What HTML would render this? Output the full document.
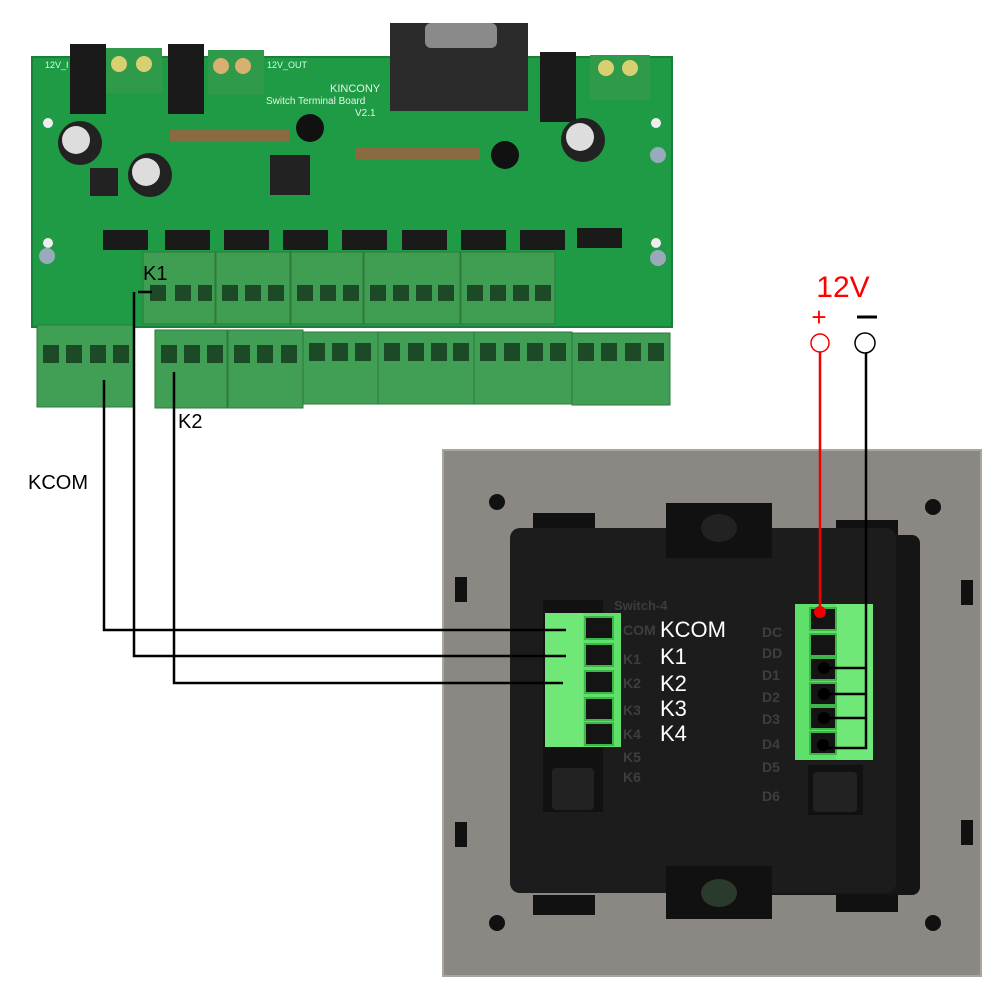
<!DOCTYPE html>
<html><head><meta charset="utf-8"><style>
html,body{margin:0;padding:0;background:#fff;}
svg{display:block}
text{font-family:"Liberation Sans",sans-serif;}
</style></head><body>
<svg width="1000" height="1000" viewBox="0 0 1000 1000" xmlns="http://www.w3.org/2000/svg">
<rect width="1000" height="1000" fill="#fff"/>
<!-- PCB -->
<rect x="32" y="57" width="640" height="270" fill="#1f9b45"/>
<rect x="32" y="57" width="640" height="270" fill="none" stroke="#17803a" stroke-width="2"/>
<!-- top components -->
<rect x="390" y="23" width="138" height="88" fill="#2b2b2b"/>
<rect x="425" y="23" width="72" height="25" rx="6" fill="#8a8a8a"/>
<rect x="70" y="44" width="36" height="70" fill="#1a1a1a"/>
<rect x="168" y="44" width="36" height="70" fill="#1a1a1a"/>
<rect x="540" y="52" width="36" height="70" fill="#1a1a1a"/>
<rect x="106" y="48" width="56" height="45" fill="#2f9a4a"/>
<circle cx="119" cy="64" r="8" fill="#d8d070"/><circle cx="144" cy="64" r="8" fill="#d8d070"/>
<rect x="208" y="50" width="56" height="45" fill="#2f9a4a"/>
<circle cx="221" cy="66" r="8" fill="#d8b070"/><circle cx="243" cy="66" r="8" fill="#d8b070"/>
<rect x="590" y="55" width="60" height="45" fill="#2f9a4a"/>
<circle cx="606" cy="68" r="8" fill="#d8d070"/><circle cx="630" cy="68" r="8" fill="#d8d070"/>
<circle cx="80" cy="143" r="22" fill="#222"/><circle cx="76" cy="140" r="14" fill="#ddd"/>
<circle cx="150" cy="175" r="22" fill="#222"/><circle cx="146" cy="172" r="14" fill="#ddd"/>
<circle cx="583" cy="140" r="22" fill="#222"/><circle cx="580" cy="137" r="14" fill="#ddd"/>
<rect x="90" y="168" width="28" height="28" fill="#222"/>
<rect x="170" y="130" width="120" height="12" fill="#8a6a40"/>
<rect x="355" y="148" width="125" height="12" fill="#8a6a40"/>
<rect x="270" y="155" width="40" height="40" fill="#222"/>
<circle cx="310" cy="128" r="14" fill="#111"/><circle cx="505" cy="155" r="14" fill="#111"/>
<text x="330" y="92" font-size="11" fill="#e8f5e8">KINCONY</text>
<text x="266" y="104" font-size="10" fill="#e8f5e8">Switch Terminal Board</text>
<text x="355" y="116" font-size="10" fill="#e8f5e8">V2.1</text>
<text x="45" y="68" font-size="9" fill="#cfe">12V_I</text>
<text x="267" y="68" font-size="9" fill="#cfe">12V_OUT</text>
<circle cx="48" cy="123" r="5" fill="#eee"/><circle cx="48" cy="243" r="5" fill="#eee"/>
<circle cx="656" cy="123" r="5" fill="#eee"/><circle cx="656" cy="243" r="5" fill="#eee"/>
<circle cx="47" cy="256" r="8" fill="#9ab"/><circle cx="658" cy="155" r="8" fill="#9ab"/><circle cx="658" cy="258" r="8" fill="#9ab"/>
<!-- ICs -->
<g fill="#1a1a1a">
<rect x="103" y="230" width="45" height="20"/><rect x="165" y="230" width="45" height="20"/>
<rect x="224" y="230" width="45" height="20"/><rect x="283" y="230" width="45" height="20"/>
<rect x="342" y="230" width="45" height="20"/><rect x="402" y="230" width="45" height="20"/>
<rect x="461" y="230" width="45" height="20"/><rect x="520" y="230" width="45" height="20"/>
<rect x="577" y="228" width="45" height="20"/>
</g>
<!-- upper terminal row -->
<g fill="#3f9e52" stroke="#2c7a3b" stroke-width="1">
<rect x="143" y="252" width="72" height="72"/><rect x="216" y="252" width="74" height="72"/>
<rect x="291" y="252" width="72" height="72"/><rect x="364" y="252" width="96" height="72"/>
<rect x="461" y="252" width="94" height="72"/>
</g>
<g fill="#1c4a26">
<rect x="150" y="285" width="16" height="16"/><rect x="175" y="285" width="16" height="16"/><rect x="198" y="285" width="14" height="16"/>
<rect x="222" y="285" width="16" height="16"/><rect x="245" y="285" width="16" height="16"/><rect x="268" y="285" width="16" height="16"/>
<rect x="297" y="285" width="16" height="16"/><rect x="320" y="285" width="16" height="16"/><rect x="343" y="285" width="16" height="16"/>
<rect x="370" y="285" width="16" height="16"/><rect x="393" y="285" width="16" height="16"/><rect x="416" y="285" width="16" height="16"/><rect x="438" y="285" width="16" height="16"/>
<rect x="467" y="285" width="16" height="16"/><rect x="490" y="285" width="16" height="16"/><rect x="513" y="285" width="16" height="16"/><rect x="535" y="285" width="16" height="16"/>
</g>
<!-- lower terminal row -->
<g fill="#419f55" stroke="#2c7a3b" stroke-width="1">
<rect x="37" y="325" width="97" height="82"/><rect x="155" y="330" width="72" height="78"/>
<rect x="228" y="330" width="75" height="78"/><rect x="303" y="332" width="75" height="72"/>
<rect x="378" y="332" width="96" height="72"/><rect x="474" y="332" width="98" height="72"/>
<rect x="572" y="333" width="98" height="72"/>
</g>
<g fill="#1c4a26">
<rect x="43" y="345" width="16" height="18"/><rect x="66" y="345" width="16" height="18"/><rect x="90" y="345" width="16" height="18"/><rect x="113" y="345" width="16" height="18"/>
<rect x="161" y="345" width="16" height="18"/><rect x="184" y="345" width="16" height="18"/><rect x="207" y="345" width="16" height="18"/>
<rect x="234" y="345" width="16" height="18"/><rect x="257" y="345" width="16" height="18"/><rect x="281" y="345" width="16" height="18"/>
<rect x="309" y="343" width="16" height="18"/><rect x="332" y="343" width="16" height="18"/><rect x="355" y="343" width="16" height="18"/>
<rect x="384" y="343" width="16" height="18"/><rect x="408" y="343" width="16" height="18"/><rect x="431" y="343" width="16" height="18"/><rect x="453" y="343" width="16" height="18"/>
<rect x="480" y="343" width="16" height="18"/><rect x="504" y="343" width="16" height="18"/><rect x="527" y="343" width="16" height="18"/><rect x="550" y="343" width="16" height="18"/>
<rect x="578" y="343" width="16" height="18"/><rect x="601" y="343" width="16" height="18"/><rect x="625" y="343" width="16" height="18"/><rect x="648" y="343" width="16" height="18"/>
</g>
<text x="143" y="280" font-size="20" fill="#000">K1</text>
<text x="178" y="428" font-size="20" fill="#000">K2</text>
<text x="28" y="489" font-size="20" fill="#000">KCOM</text>

<!-- panel -->
<rect x="443" y="450" width="538" height="526" fill="#8b8884"/>
<rect x="443" y="450" width="538" height="526" fill="none" stroke="#a8a6a3" stroke-width="2"/>
<g fill="#111">
<circle cx="497" cy="502" r="8"/><circle cx="933" cy="507" r="8"/><circle cx="497" cy="923" r="8"/><circle cx="933" cy="923" r="8"/>
<rect x="455" y="577" width="12" height="25"/><rect x="961" y="580" width="12" height="25"/>
<rect x="455" y="822" width="12" height="25"/><rect x="961" y="820" width="12" height="25"/>
<rect x="533" y="513" width="62" height="20"/><rect x="836" y="520" width="62" height="20"/>
<rect x="533" y="895" width="62" height="20"/><rect x="836" y="892" width="62" height="20"/>
</g>
<rect x="700" y="535" width="220" height="360" rx="8" fill="#151515"/>
<rect x="510" y="528" width="386" height="365" rx="10" fill="#1c1c1c"/>
<rect x="666" y="503" width="106" height="55" fill="#111"/>
<rect x="666" y="866" width="106" height="53" fill="#111"/>
<ellipse cx="719" cy="528" rx="18" ry="14" fill="#222"/>
<ellipse cx="719" cy="893" rx="18" ry="14" fill="#2a3a2c"/>
<rect x="543" y="600" width="60" height="212" fill="#111"/>
<rect x="808" y="765" width="55" height="50" fill="#111"/>
<rect x="552" y="768" width="42" height="42" rx="4" fill="#222"/>
<rect x="813" y="772" width="44" height="40" rx="4" fill="#222"/>
<text x="614" y="610" font-size="13" font-weight="bold" fill="#3c3c3c" font-family="Liberation Mono">Switch-4</text>
<g font-size="14" font-weight="bold" fill="#3e3e3e">
<text x="623" y="635">COM</text><text x="623" y="664">K1</text><text x="623" y="688">K2</text>
<text x="623" y="715">K3</text><text x="623" y="739">K4</text><text x="623" y="762">K5</text><text x="623" y="782">K6</text>
<text x="762" y="637">DC</text><text x="762" y="658">DD</text><text x="762" y="680">D1</text><text x="762" y="702">D2</text>
<text x="762" y="724">D3</text><text x="762" y="749">D4</text><text x="762" y="772">D5</text><text x="762" y="801">D6</text>
</g>
<!-- left green terminal -->
<rect x="545" y="613" width="76" height="134" fill="#5fe06a"/>
<rect x="545" y="613" width="38" height="134" fill="#6fe878"/>
<g fill="#141414" stroke="#3db848" stroke-width="2">
<rect x="585" y="617" width="28" height="22"/><rect x="585" y="644" width="28" height="22"/>
<rect x="585" y="671" width="28" height="22"/><rect x="585" y="698" width="28" height="22"/><rect x="585" y="723" width="28" height="22"/>
</g>
<!-- right green terminal -->
<rect x="795" y="604" width="78" height="156" fill="#5fe06a"/>
<rect x="836" y="604" width="37" height="156" fill="#6fe878"/>
<g fill="#141414" stroke="#3db848" stroke-width="2">
<rect x="810" y="608" width="26" height="22"/><rect x="810" y="634" width="26" height="22"/>
<rect x="810" y="658" width="26" height="22"/><rect x="810" y="683" width="26" height="22"/>
<rect x="810" y="707" width="26" height="22"/><rect x="810" y="732" width="26" height="22"/>
</g>
<g font-size="22" fill="#fff">
<text x="660" y="637">KCOM</text><text x="660" y="664">K1</text><text x="660" y="691">K2</text>
<text x="660" y="716">K3</text><text x="660" y="741">K4</text>
</g>

<!-- wires -->
<g stroke="#000" stroke-width="2.5" fill="none">
<polyline points="104,380 104,630 566,630"/>
<polyline points="134,292 134,656 566,656"/>
<polyline points="138,292 152,292" />
<polyline points="174,372 174,683 563,683"/>
<polyline points="866,353 866,748 826,748"/>
<line x1="826" y1="668" x2="866" y2="668"/>
<line x1="826" y1="694" x2="866" y2="694"/>
<line x1="826" y1="718" x2="866" y2="718"/>
</g>
<g fill="#000">
<circle cx="824" cy="668" r="6"/><circle cx="824" cy="694" r="6"/><circle cx="824" cy="718" r="6"/><circle cx="823" cy="745" r="6"/>
</g>
<line x1="820" y1="352" x2="820" y2="612" stroke="#e00" stroke-width="2.5"/>
<circle cx="820" cy="612" r="6" fill="#e00"/>
<circle cx="820" cy="343" r="9" fill="#fff" stroke="#e00" stroke-width="1.5"/>
<circle cx="865" cy="343" r="10" fill="#fff" stroke="#000" stroke-width="1.5"/>
<text x="843" y="297" font-size="30" fill="#f00" text-anchor="middle">12V</text>
<text x="819" y="326" font-size="26" fill="#f00" text-anchor="middle">+</text>
<line x1="857" y1="317" x2="877" y2="317" stroke="#000" stroke-width="3"/>
</svg>
</body></html>
